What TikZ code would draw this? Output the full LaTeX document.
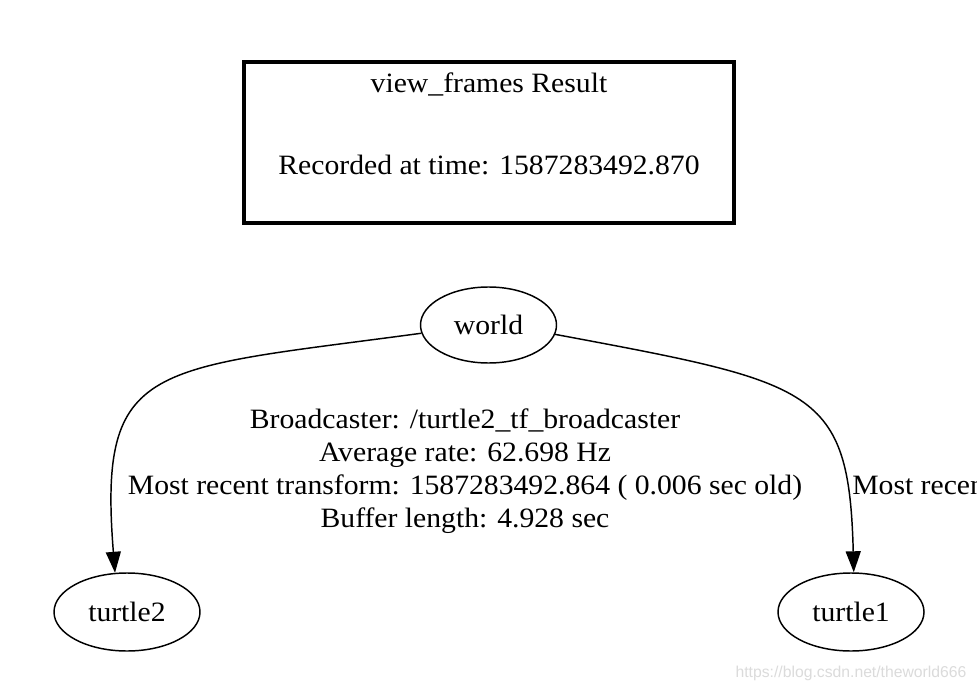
\documentclass[tikz,border=0pt]{standalone}
\usepackage{fontspec}
\setmainfont{Liberation Serif}[FakeStretch=1.06]
\newfontfamily\wmfont{Liberation Sans}
\usetikzlibrary{arrows.meta,shapes.geometric}
\begin{document}
\begin{tikzpicture}[x=0.75pt,y=-0.75pt,
  lbl/.style={font=\fontsize{21}{24.75}\selectfont, inner sep=0pt},
  tfframe/.style={ellipse, draw, line width=1.1pt, inner sep=0pt,
    font=\fontsize{21}{24.75}\selectfont},
  tfedge/.style={draw, line width=1.1pt,
    -{Triangle[length=15.75pt,width=11.25pt]}}]
\useasboundingbox (0,0) rectangle (977,691);
\clip (0,0) rectangle (977,691);
\fill[white] (0,0) rectangle (977,691);
% title box
\node[draw, line width=2.6pt, minimum width=367.5pt, minimum height=121pt,
  inner sep=0pt] (title) at (489,142.5) {};
\node[lbl, anchor=base] (t1) at (489,93) {view\_frames Result};
\node[lbl, anchor=base] (t2) at (489,175) {Recorded at time: 1587283492.870};
% frames
\node[tfframe, minimum width=102pt, minimum height=57pt] (world) at (488.5,325) {world};
\node[tfframe, minimum width=109.5pt, minimum height=58.5pt] (turtle2) at (127,612) {turtle2};
\node[tfframe, minimum width=109.5pt, minimum height=58.5pt] (turtle1) at (851,612) {turtle1};
% edges
\draw[tfedge] (world.187) .. controls (150,370) and (98,360) .. (turtle2.107);
\draw[tfedge] (world.-8) .. controls (815,383) and (849,388) .. (turtle1.86);
% left edge label
\node[lbl, anchor=base] (l1) at (465,428) {Broadcaster: /turtle2\_tf\_broadcaster};
\node[lbl, anchor=base] (l2) at (465,461) {Average rate: 62.698 Hz};
\node[lbl, anchor=base] (l3) at (465,494) {Most recent transform: 1587283492.864 ( 0.006 sec old)};
\node[lbl, anchor=base] (l4) at (465,527) {Buffer length: 4.928 sec};
% right edge label (cut off by the picture border, as in the reference)
\node[lbl, anchor=base west] (r1) at (976,428) {Broadcaster};
\node[lbl, anchor=base west] (r3) at (852,494) {Most recent transform};
% watermark
\node[font=\wmfont\fontsize{11.8}{13}\selectfont, text=gray!28, inner sep=0pt] (wm) at (851,673) {https://blog.csdn.net/theworld666};
\end{tikzpicture}
\end{document}
